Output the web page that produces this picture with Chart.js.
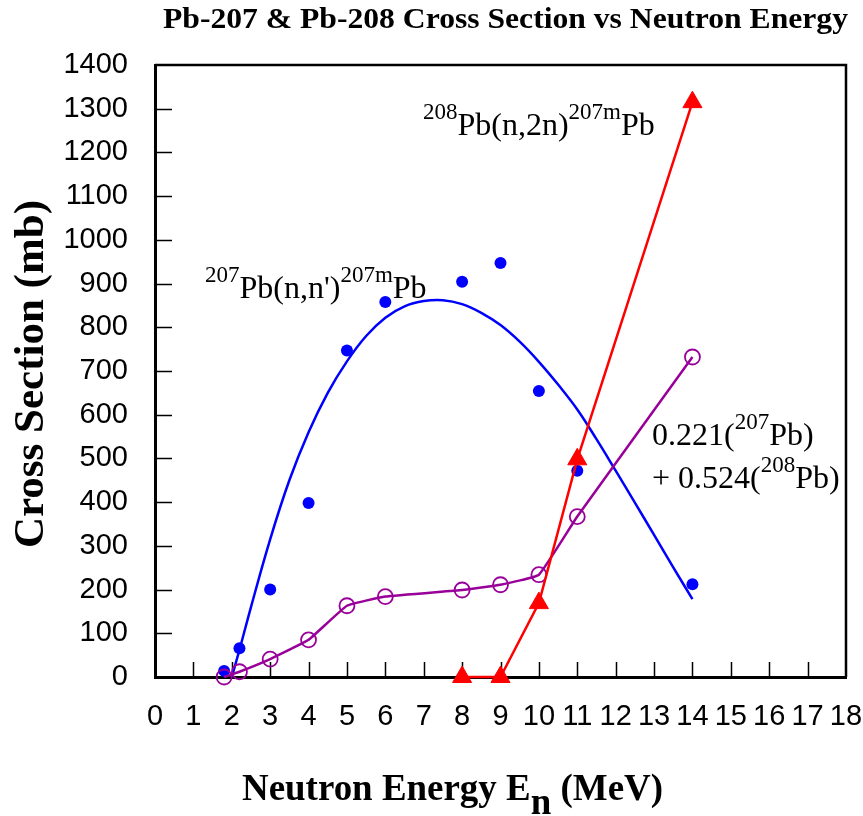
<!DOCTYPE html>
<html><head><meta charset="utf-8">
<script src="https://cdn.jsdelivr.net/npm/chart.js@4.4.0/dist/chart.umd.min.js"></script>
<style>html,body{margin:0;padding:0;background:#fff}#wrap{width:863px;height:816px;position:relative}</style>
</head><body><div id="wrap"><canvas id="c" width="863" height="816"></canvas></div>
<script>
// ---- data ----
const pb207Energy = [1.8, 2.2, 3, 4, 5, 6, 8, 9, 10, 11, 14];
const pb207Values = [14, 66, 200, 398, 747, 858, 904, 947, 654, 472, 212];

const fitEnergy = [2.0, 2.2, 2.5, 3.0, 3.5, 4.0, 4.5, 5.0, 5.5, 6.0, 6.5, 7.0, 7.5, 8.0, 8.5, 9.0, 9.5, 10.0, 10.5, 11.0, 11.5, 12.0, 12.5, 13.0, 13.5, 14.0];
const fitValues = [0, 62, 160, 315, 450, 560, 650, 722, 780, 822, 848, 860, 862, 853, 833, 805, 767, 721, 669, 612, 544, 472, 399, 325, 251, 178];

const sumEnergy = [1.8, 2.2, 3, 4, 5, 6, 8, 9, 10, 11, 14];
const sumValues = [0, 12, 41, 85, 163, 184, 199, 211, 234, 367, 732];

const pb208Energy = [8, 9, 10, 11, 14];
const pb208Values = [0, 0, 169, 498, 1315];

const xTickValues = [0,1,2,3,4,5,6,7,8,9,10,11,12,13,14,15,16,17,18];
const yTickValues = [0,100,200,300,400,500,600,700,800,900,1000,1100,1200,1300,1400];

const titleText = 'Pb-207 & Pb-208 Cross Section vs Neutron Energy';
const yTitleText = 'Cross Section (mb)';

const toPts = (xs, ys) => xs.map((v, i) => ({x: v, y: ys[i]}));

function drawRich(ctx, x, y, parts, family, weight, targetWidth, rotate) {
  ctx.save();
  let total = 0;
  parts.forEach(p => { ctx.font = `${weight} ${p.size}px ${family}`; p.w = ctx.measureText(p.t).width; total += p.w; });
  const sx = targetWidth ? targetWidth / total : 1;
  ctx.translate(x, y);
  if (rotate) ctx.rotate(rotate);
  ctx.scale(sx, 1);
  ctx.fillStyle = '#000';
  ctx.textBaseline = 'alphabetic';
  ctx.textAlign = 'left';
  let cx = 0;
  parts.forEach(p => { ctx.font = `${weight} ${p.size}px ${family}`; ctx.fillText(p.t, cx, p.dy || 0); cx += p.w; });
  ctx.restore();
}

const decor = {
  id: 'decor',
  beforeDatasetsDraw(chart) {
    const {ctx, chartArea: a, scales: {x, y}} = chart;
    ctx.save();
    ctx.strokeStyle = '#000';
    ctx.lineWidth = 1.5;
    ctx.beginPath();
    xTickValues.forEach(v => { if (v === 0 || v === 18) return; const px = Math.round(x.getPixelForValue(v)) + 0.5; ctx.moveTo(px, a.bottom); ctx.lineTo(px, a.bottom - 15); });
    yTickValues.forEach(v => { if (v === 0 || v === 1400) return; const py = Math.round(y.getPixelForValue(v)) + 0.5; ctx.moveTo(a.left, py); ctx.lineTo(a.left + 17, py); });
    ctx.stroke();
    ctx.lineWidth = 2.5;
    ctx.beginPath();
    ctx.moveTo(a.left, a.top); ctx.lineTo(a.right, a.top); ctx.lineTo(a.right, a.bottom);
    ctx.stroke();
    ctx.restore();
  },
  afterDraw(chart) {
    const ctx = chart.ctx;
    const serif = '"Liberation Serif", "Times New Roman", serif';
    drawRich(ctx, 163, 28, [{t: titleText, size: 30}], serif, 'bold', 685);
    drawRich(ctx, 242, 800, [{t: 'Neutron Energy E', size: 38}, {t: 'n', size: 38, dy: 14}, {t: ' (MeV)', size: 38}], serif, 'bold', 421);
    drawRich(ctx, 43, 548, [{t: yTitleText, size: 42}], serif, 'bold', 348, -Math.PI / 2);
    drawRich(ctx, 205, 298, [{t: '207', size: 23, dy: -16}, {t: "Pb(n,n')", size: 32}, {t: '207m', size: 23, dy: -16}, {t: 'Pb', size: 32}], serif, 'normal');
    drawRich(ctx, 423, 135, [{t: '208', size: 23, dy: -16}, {t: 'Pb(n,2n)', size: 32}, {t: '207m', size: 23, dy: -16}, {t: 'Pb', size: 32}], serif, 'normal');
    drawRich(ctx, 652, 445, [{t: '0.221(', size: 32}, {t: '207', size: 23, dy: -16}, {t: 'Pb)', size: 32}], serif, 'normal');
    drawRich(ctx, 652, 488, [{t: '+ 0.524(', size: 32}, {t: '208', size: 23, dy: -16}, {t: 'Pb)', size: 32}], serif, 'normal');
  }
};

new Chart(document.getElementById('c'), {
  type: 'scatter',
  data: {
    datasets: [
      {
        label: '208Pb(n,2n)207mPb',
        data: toPts(pb208Energy, pb208Values),
        showLine: true, borderColor: '#ff0000', borderWidth: 2.5, tension: 0,
        pointStyle: 'triangle', pointRadius: 11, pointBackgroundColor: '#ff0000', pointBorderColor: '#ff0000', pointBorderWidth: 1,
        clip: false, order: 0
      },
      {
        label: '0.221(207Pb) + 0.524(208Pb)',
        data: toPts(sumEnergy, sumValues),
        showLine: true, borderColor: '#990099', borderWidth: 2.5, tension: 0.1,
        pointStyle: 'circle', pointRadius: 7.5, pointBackgroundColor: 'rgba(0,0,0,0)', pointBorderColor: '#990099', pointBorderWidth: 1.8,
        clip: false, order: 1
      },
      {
        label: '207Pb fit',
        data: toPts(fitEnergy, fitValues),
        showLine: true, borderColor: '#0000ff', borderWidth: 2.5, tension: 0.4,
        pointRadius: 0, clip: false, order: 2
      },
      {
        label: '207Pb(n,n\')207mPb',
        data: toPts(pb207Energy, pb207Values),
        showLine: false, pointStyle: 'circle', pointRadius: 6,
        pointBackgroundColor: '#0000ff', pointBorderColor: '#0000ff', pointBorderWidth: 0,
        clip: false, order: 3
      }
    ]
  },
  options: {
    responsive: false, animation: false, devicePixelRatio: 1,
    layout: {padding: {top: 65, right: 17, left: 0, bottom: 0}},
    plugins: {legend: {display: false}, title: {display: false}, tooltip: {enabled: false}},
    scales: {
      x: {
        type: 'linear', min: 0, max: 18,
        afterBuildTicks: s => { s.ticks = xTickValues.map(v => ({value: v})); },
        afterFit: s => { s.height = 139; s.paddingLeft = 0; s.paddingRight = 0; },
        ticks: {autoSkip: false, maxRotation: 0, minRotation: 0, padding: 23, color: '#000', font: {family: '"Liberation Sans", Arial, sans-serif', size: 29}, callback: v => String(v)},
        grid: {display: false, drawTicks: false},
        border: {display: true, color: '#000', width: 3}
      },
      y: {
        type: 'linear', min: 0, max: 1400,
        afterBuildTicks: s => { s.ticks = yTickValues.map(v => ({value: v})); },
        afterFit: s => { s.width = 155; s.paddingTop = 0; s.paddingBottom = 0; },
        ticks: {autoSkip: false, padding: 27, color: '#000', font: {family: '"Liberation Sans", Arial, sans-serif', size: 29}, callback: v => String(v)},
        grid: {display: false, drawTicks: false},
        border: {display: true, color: '#000', width: 3}
      }
    }
  },
  plugins: [decor]
});
</script>
</body></html>
